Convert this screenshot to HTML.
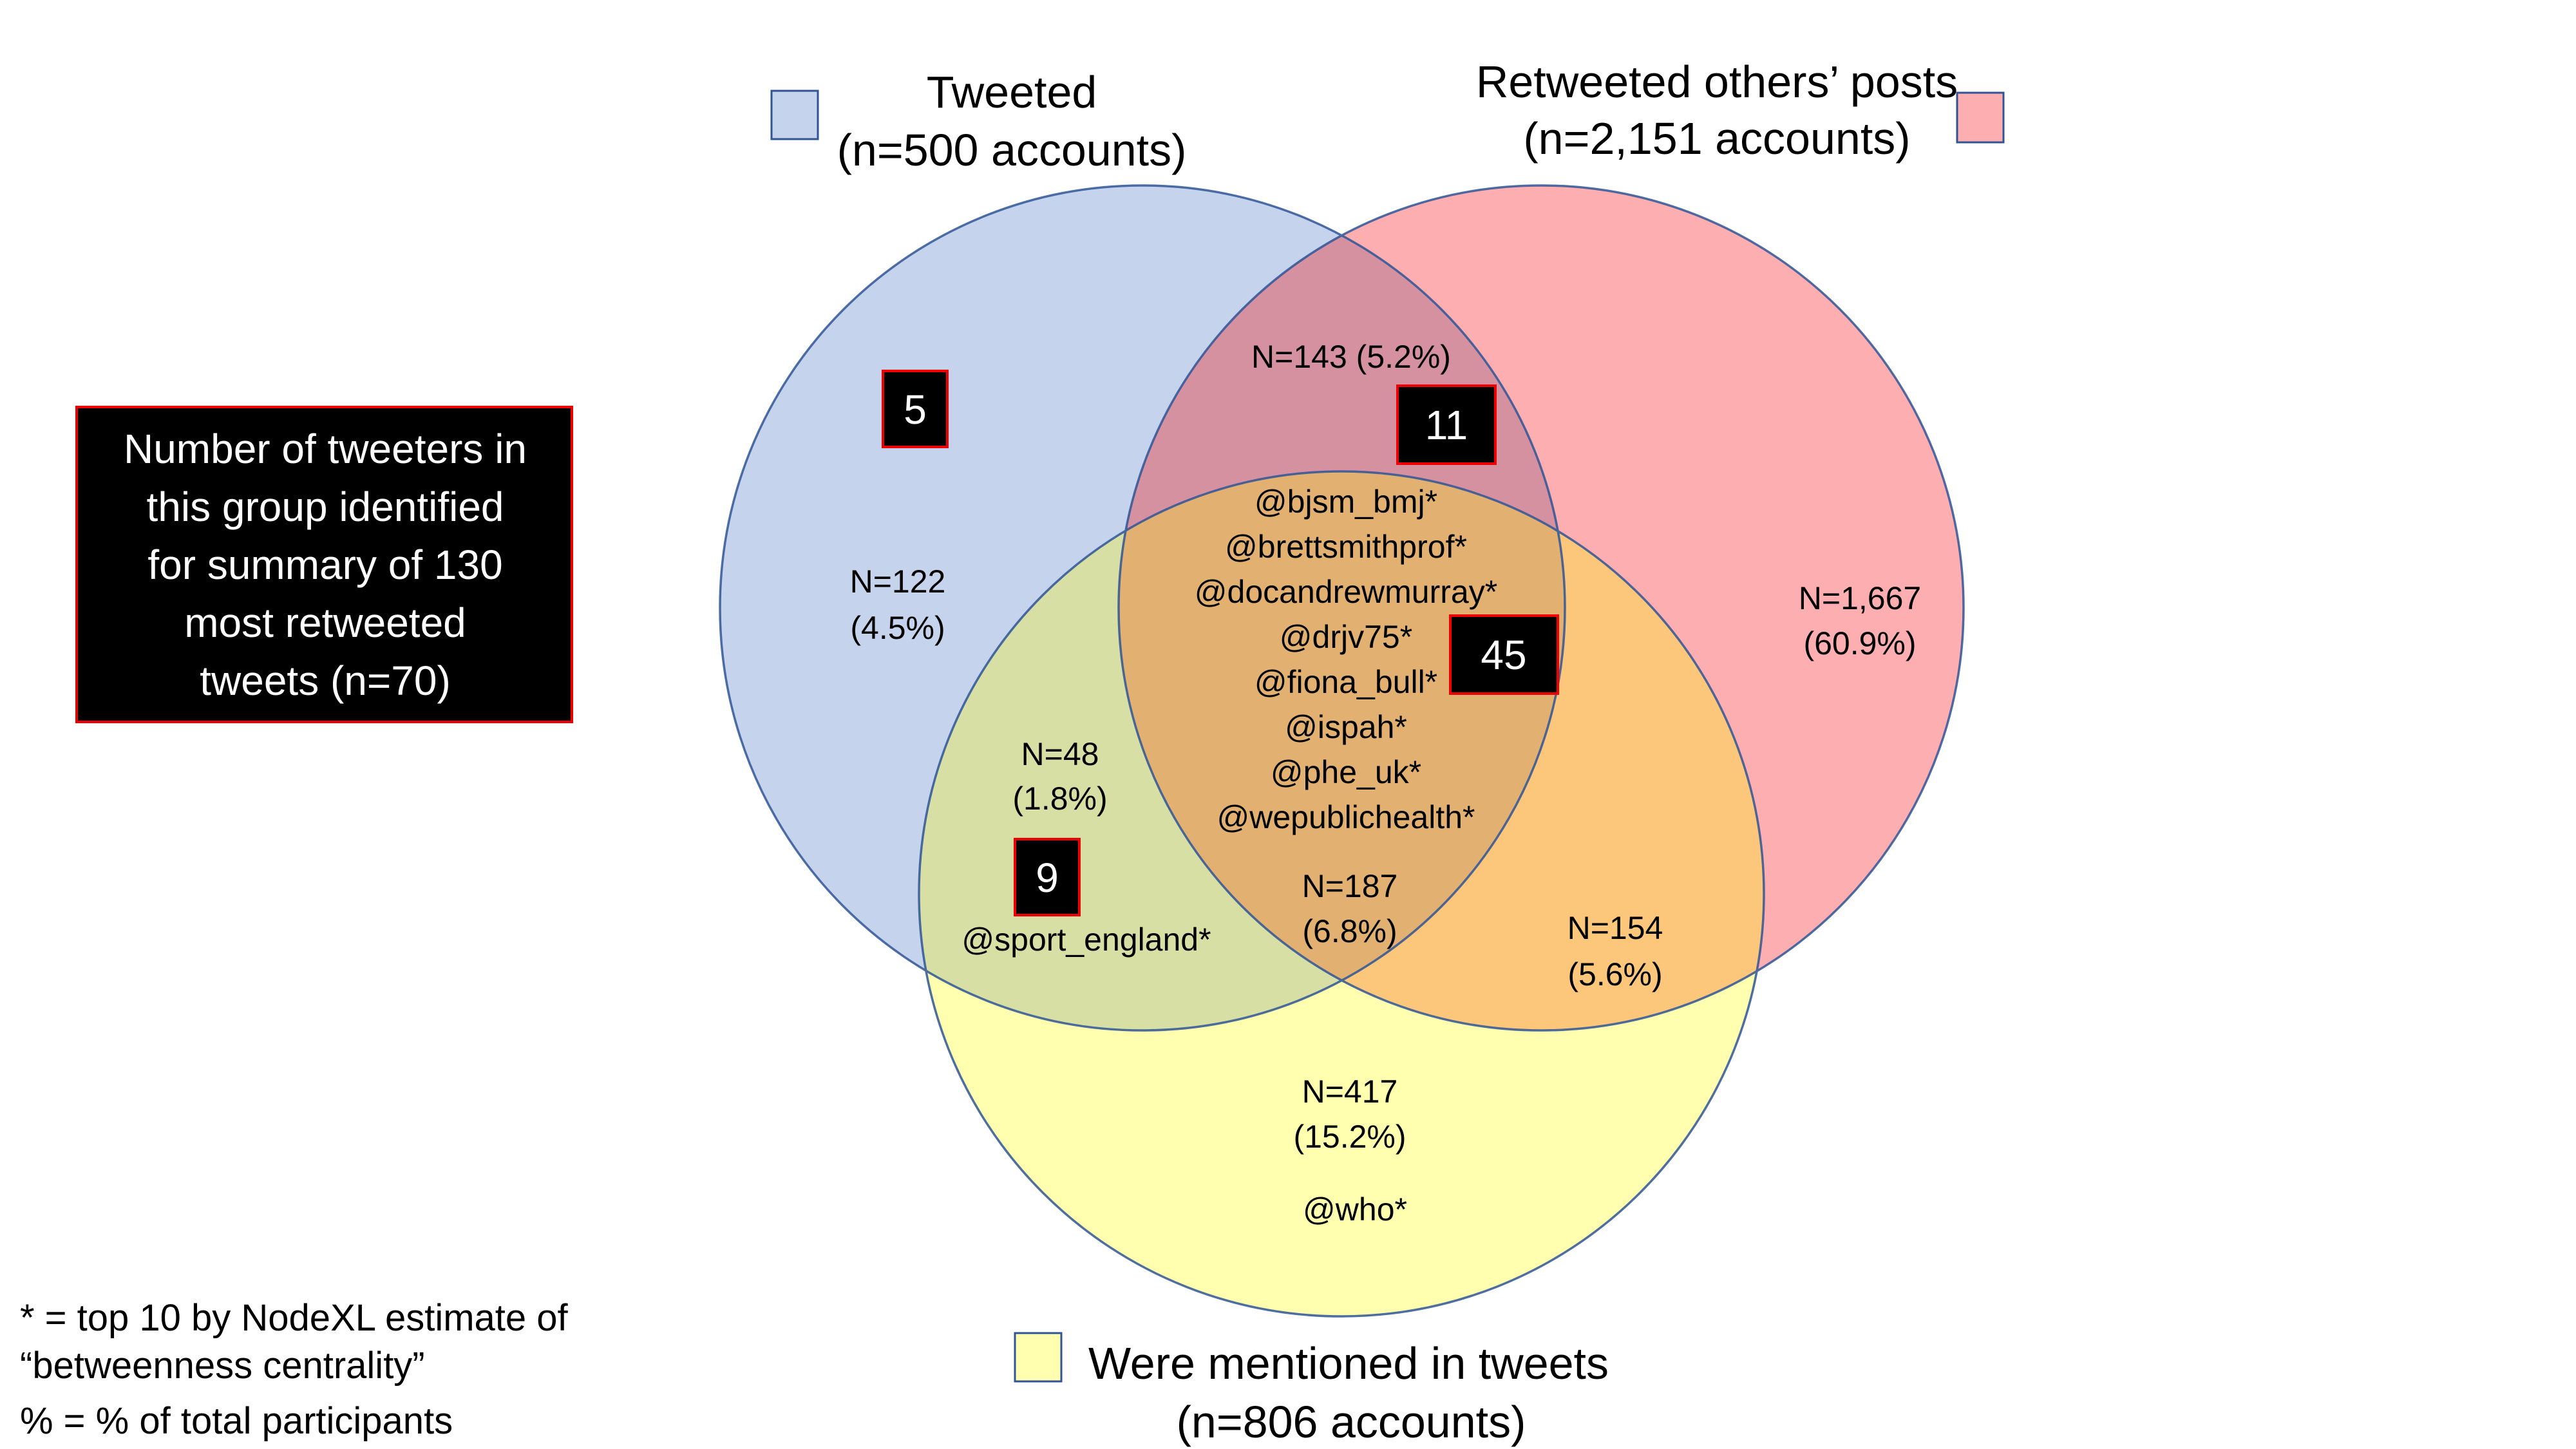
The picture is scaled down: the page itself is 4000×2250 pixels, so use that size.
<!DOCTYPE html>
<html><head><meta charset="utf-8"><style>
html,body{margin:0;padding:0;background:#fff}
svg{display:block}
text{font-family:"Liberation Sans",sans-serif}
</style></head><body>
<svg width="4000" height="2250" viewBox="0 0 4000 2250" xmlns="http://www.w3.org/2000/svg">
<defs>
<clipPath id="cb"><circle cx="1774" cy="944" r="656"/></clipPath>
<clipPath id="cr"><circle cx="2393" cy="944" r="656"/></clipPath>
</defs>
<rect width="4000" height="2250" fill="#fff"/>
<circle cx="1774" cy="944" r="656" fill="#c5d3ed"/>
<circle cx="2393" cy="944" r="656" fill="#fcaeb0"/>
<circle cx="2083" cy="1388" r="656" fill="#ffffaf"/>
<g clip-path="url(#cb)"><circle cx="2393" cy="944" r="656" fill="#d5919f"/><circle cx="2083" cy="1388" r="656" fill="#d7dfa5"/></g>
<g clip-path="url(#cr)"><circle cx="2083" cy="1388" r="656" fill="#fcc67b"/></g>
<g clip-path="url(#cb)"><g clip-path="url(#cr)"><circle cx="2083" cy="1388" r="656" fill="#e2b172"/></g></g>
<g fill="none" stroke="#2f5597" stroke-width="3.5" opacity="0.85">
<circle cx="1774" cy="944" r="656"/><circle cx="2393" cy="944" r="656"/><circle cx="2083" cy="1388" r="656"/>
</g>
<rect x="1198" y="141" width="72" height="75" fill="#c5d3ed" stroke="#2f5597" stroke-width="3"/>
<rect x="3039" y="144" width="72" height="77" fill="#fcaeb0" stroke="#2f5597" stroke-width="3"/>
<rect x="1576" y="2070" width="72" height="75" fill="#ffffaf" stroke="#2f5597" stroke-width="3"/>
<g font-size="70" text-anchor="middle" style="fill:#000">
<text x="1571" y="167">Tweeted</text>
<text x="1571" y="257">(n=500 accounts)</text>
<text x="2666" y="151">Retweeted others’ posts</text>
<text x="2666" y="239">(n=2,151 accounts)</text>
<text x="2098" y="2232">(n=806 accounts)</text>
</g>
<text x="1690" y="2141" font-size="70" style="fill:#000">Were mentioned in tweets</text>
<rect x="119" y="632" width="769" height="489" fill="#000" stroke="#e00" stroke-width="4"/>
<g font-size="64" text-anchor="middle" style="fill:#fff">
<text x="505" y="719">Number of tweeters in</text>
<text x="505" y="809">this group identified</text>
<text x="505" y="899">for summary of 130</text>
<text x="505" y="989">most retweeted</text>
<text x="505" y="1079">tweets (n=70)</text>
</g>
<g font-size="58" style="fill:#000">
<text x="31" y="2066">* = top 10 by NodeXL estimate of</text>
<text x="31" y="2140">“betweenness centrality”</text>
<text x="31" y="2226">% = % of total participants</text>
</g>
<g fill="#000" stroke="#e00" stroke-width="4">
<rect x="1371" y="576" width="100" height="118"/>
<rect x="2170" y="599" width="152" height="121"/>
<rect x="2252" y="956" width="167" height="121"/>
<rect x="1576" y="1303" width="100" height="118"/>
</g>
<g font-size="64" text-anchor="middle" style="fill:#fff">
<text x="1421" y="658">5</text>
<text x="2246" y="682">11</text>
<text x="2335" y="1039">45</text>
<text x="1626" y="1385">9</text>
</g>
<g font-size="50" text-anchor="middle" style="fill:#000">
<text x="2098" y="571">N=143 (5.2%)</text>
<text x="2090" y="796">@bjsm_bmj*</text>
<text x="2090" y="866">@brettsmithprof*</text>
<text x="2090" y="936">@docandrewmurray*</text>
<text x="2090" y="1006">@drjv75*</text>
<text x="2090" y="1076">@fiona_bull*</text>
<text x="2090" y="1146">@ispah*</text>
<text x="2090" y="1216">@phe_uk*</text>
<text x="2090" y="1286">@wepublichealth*</text>
<text x="1394" y="920">N=122</text>
<text x="1394" y="992">(4.5%)</text>
<text x="2888" y="946">N=1,667</text>
<text x="2888" y="1016">(60.9%)</text>
<text x="1646" y="1188">N=48</text>
<text x="1646" y="1257">(1.8%)</text>
<text x="1687" y="1476">@sport_england*</text>
<text x="2096" y="1393">N=187</text>
<text x="2096" y="1463">(6.8%)</text>
<text x="2508" y="1458">N=154</text>
<text x="2508" y="1530">(5.6%)</text>
<text x="2096" y="1712">N=417</text>
<text x="2096" y="1782">(15.2%)</text>
<text x="2104" y="1895">@who*</text>
</g>
</svg>
</body></html>
